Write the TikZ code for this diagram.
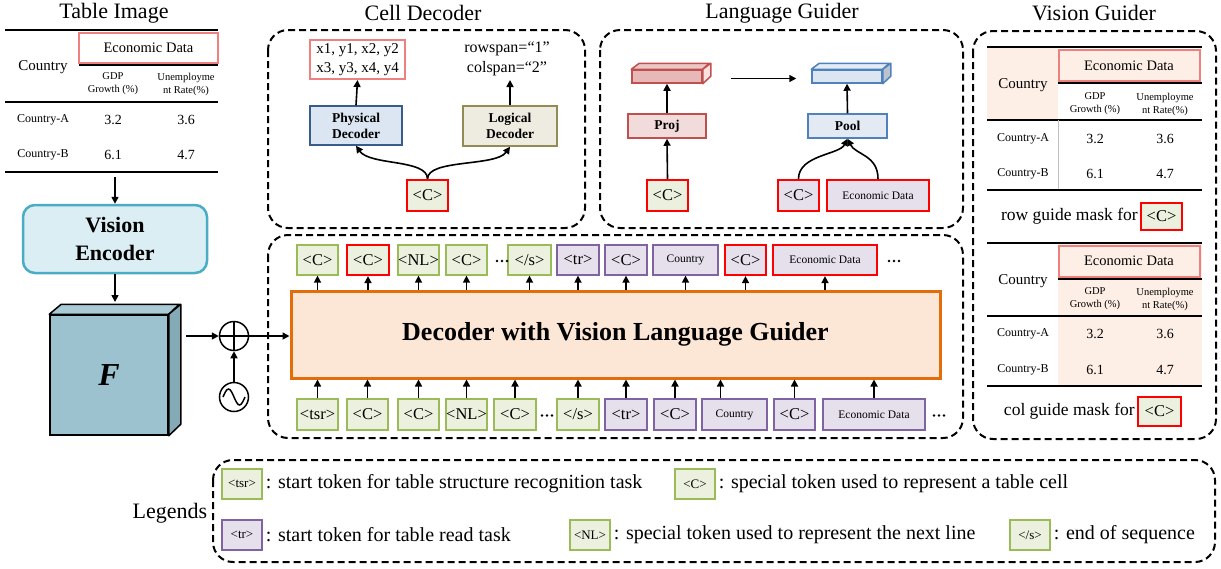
\documentclass[tikz,border=0pt]{standalone}
\usepackage{fontspec}
\setmainfont{Liberation Serif}
\usetikzlibrary{arrows.meta,calc}
\definecolor{gfill}{HTML}{EBF1DE}
\definecolor{gdraw}{HTML}{9BBB59}
\definecolor{pfill}{HTML}{E5E0EC}
\definecolor{pdraw}{HTML}{8064A2}
\definecolor{salmon}{HTML}{EE8080}
\definecolor{peach}{HTML}{FDEFE5}
\definecolor{decfill}{HTML}{FCE6D6}
\definecolor{decdraw}{HTML}{E46C0A}
\definecolor{encfill}{HTML}{DAEEF3}
\definecolor{encdraw}{HTML}{4BACC6}
\definecolor{physfill}{HTML}{DCE6F2}
\definecolor{physdraw}{HTML}{385D8A}
\definecolor{logfill}{HTML}{EEECE1}
\definecolor{logdraw}{HTML}{948A54}
\definecolor{projfill}{HTML}{F2DCDB}
\definecolor{projdraw}{HTML}{C0504D}
\definecolor{prismred}{HTML}{E6B9B8}
\definecolor{poolfill}{HTML}{E3EAF4}
\definecolor{pooldraw}{HTML}{4F81BD}
\definecolor{prismblue}{HTML}{DCE6F2}
\definecolor{cubefront}{HTML}{9BC2CE}
\definecolor{cubetop}{HTML}{A9CBD5}
\definecolor{cubeside}{HTML}{84AAB5}
\newcommand{\fsz}[2]{\fontsize{#1}{#2}\selectfont}
\begin{document}
\begin{tikzpicture}[x=1pt,y=-1pt,
 tok/.style={draw, line width=1.3pt, minimum height=30pt, inner sep=0pt, font=\fsz{16.5}{18}},
 tg/.style={tok, draw=gdraw, fill=gfill},
 tp/.style={tok, draw=pdraw, fill=pfill},
 redb/.style={draw=red, line width=2.2pt},
 tsmall/.style={font=\fsz{11.5}{13}},
 arr/.style={-{Triangle[length=7pt,width=7pt]}, line width=1.6pt},
 panel/.style={draw, dash pattern=on 7pt off 4pt, line width=2pt, rounded corners=20pt},
 title/.style={font=\fsz{22}{26}},
 bx/.style={draw, line width=1.5pt, inner sep=0pt, align=center, font=\bfseries\fsz{13.5}{16}},
 tt/.style={inner sep=0pt, align=center},
 lg/.style={draw, line width=1.3pt, minimum width=40pt, minimum height=30pt, inner sep=0pt, font=\fsz{13}{15}},
 lt/.style={anchor=west, inner sep=3pt, font=\fsz{20}{24}},
 ecbox/.style={draw=salmon, line width=2pt, inner sep=0pt, font=\fsz{14.5}{17}},
 thick2/.style={line width=2pt},
 thin15/.style={line width=1.5pt},
 dots/.style={inner sep=0pt, minimum width=14pt, minimum height=4pt},
]
\useasboundingbox (0,0) rectangle (1221,568);

% titles
\node[title] (tti) at (114,13) {Table Image};
\node[title] (tcd) at (423,13) {Cell Decoder};
\node[title] (tlg) at (782,13) {Language Guider};
\node[title] (tvg) at (1094,13) {Vision Guider};

% ---------- left table ----------
\draw[thick2] (5,30) -- (218,30);
\node[ecbox, minimum width=139pt, minimum height=30pt] (ted) at (148.5,48) {Economic Data};
\draw[thin15] (79,65) -- (218,65);
\node[tt, font=\fsz{15}{18}] (tc) at (43,67) {Country};
\node[tt, font=\fsz{10.5}{13}] (tg1) at (113,84) {GDP\\Growth (\%)};
\node[tt, font=\fsz{10.5}{13}] (tu1) at (186,84) {Unemployme\\nt Rate(\%)};
\draw[thin15] (5,102) -- (218,102);
\node[tt, font=\fsz{12}{14}] (tca) at (43,120) {Country-A};
\node[tt, font=\fsz{14}{16}] (tv1) at (113,120) {3.2};
\node[tt, font=\fsz{14}{16}] (tv2) at (186,120) {3.6};
\node[tt, font=\fsz{12}{14}] (tcb) at (43,155) {Country-B};
\node[tt, font=\fsz{14}{16}] (tv3) at (113,155) {6.1};
\node[tt, font=\fsz{14}{16}] (tv4) at (186,155) {4.7};
\draw[thick2] (5,172) -- (218,172);

% ---------- encoder & feature ----------
\coordinate (tbot) at (115,177);
\node[draw=encdraw, fill=encfill, line width=2.5pt, rounded corners=12pt, minimum width=184pt, minimum height=68pt, align=center, font=\bfseries\fsz{22}{28}] (enc) at (115,239) {Vision\\Encoder};
\draw[arr] (tbot) -- (enc.north);
\node[draw, line width=1.5pt, fill=cubefront, minimum width=118pt, minimum height=120pt, inner sep=0pt, font=\bfseries\itshape\fsz{32}{36}] (F) at (109,375) {F};
\draw[line width=1.5pt, fill=cubetop, line join=round] (F.north west) -- ++(12,-10) -- ++(118,0) -- (F.north east) -- cycle;
\draw[line width=1.5pt, fill=cubeside, line join=round] (F.north east) -- ++(12,-10) -- ++(0,120) -- (F.south east) -- cycle;
\coordinate (ftop) at (115,302);
\draw[arr] (enc.south) -- (ftop);

\node[circle, draw, line width=1.5pt, minimum size=29pt, inner sep=0pt] (op) at (234,336) {};
\draw[line width=1.5pt] (op.north) -- (op.south) (op.west) -- (op.east);
\node[circle, draw, line width=1.5pt, minimum size=29pt, inner sep=0pt] (sn) at (234,397) {};
\draw[line width=1.5pt] ($(sn.center)+(-11,0)$) sin ++(5.5,-8) cos ++(5.5,8) sin ++(5.5,8) cos ++(5.5,-8);
\draw[arr] (sn.north) -- (op.south);
\coordinate (fout) at (186,336);
\draw[arr] (fout) -- (op.west);

% ---------- decoder ----------
\draw[panel] (268,235) rectangle (963,438);
\node[draw=decdraw, fill=decfill, line width=3pt, minimum width=649pt, minimum height=87pt, font=\bfseries\fsz{26}{30}] (dec) at (615.5,334.5) {\raisebox{-2pt}{Decoder with Vision Language Guider}};
\draw[arr] (op.east) -- (op.east -| dec.west);

% top tokens
\node[tg, minimum width=41pt] (t1) at (317.5,260) {<C>};
\node[tg, redb, minimum width=42pt] (t2) at (368,260) {<C>};
\node[tg, minimum width=41pt] (t3) at (418.5,260) {<NL>};
\node[tg, minimum width=41pt] (t4) at (466.5,260) {<C>};
\node[dots] (td1) at (502,261) {};
\node[tg, minimum width=43pt] (t5) at (529.5,260) {</s>};
\node[tp, minimum width=42pt] (t6) at (578,260) {<tr>};
\node[tp, minimum width=42pt] (t7) at (626,260) {<C>};
\node[tp, tsmall, minimum width=65pt] (t8) at (685.5,260) {Country};
\node[tp, redb, minimum width=41pt] (t9) at (745.5,260) {<C>};
\node[tp, redb, tsmall, minimum width=104pt] (t10) at (825,260) {Economic Data};
\node[dots] (td2) at (894,261) {};
\foreach \nm in {t1,t2,t3,t4,t5,t6,t7,t8,t9,t10}
  \draw[arr] (\nm.south |- dec.north) -- (\nm.south);

% bottom tokens
\node[tg, minimum width=41pt, minimum height=31pt] (b1) at (317.5,414.5) {<tsr>};
\node[tg, minimum width=41pt, minimum height=31pt] (b2) at (367.5,414.5) {<C>};
\node[tg, minimum width=41pt, minimum height=31pt] (b3) at (418.5,414.5) {<C>};
\node[tg, minimum width=41pt, minimum height=31pt] (b4) at (466.5,414.5) {<NL>};
\node[tg, minimum width=42pt, minimum height=31pt] (b5) at (515,414.5) {<C>};
\node[dots] (bd1) at (547,415.5) {};
\node[tg, minimum width=42pt, minimum height=31pt] (b6) at (578,414.5) {</s>};
\node[tp, minimum width=42pt, minimum height=31pt] (b7) at (626,414.5) {<tr>};
\node[tp, minimum width=42pt, minimum height=31pt] (b8) at (675,414.5) {<C>};
\node[tp, tsmall, minimum width=65pt, minimum height=31pt] (b9) at (734.5,414.5) {Country};
\node[tp, minimum width=41pt, minimum height=31pt] (b10) at (794.5,414.5) {<C>};
\node[tp, tsmall, minimum width=102pt, minimum height=31pt] (b11) at (874,414.5) {Economic Data};
\node[dots] (bd2) at (939,415.5) {};
\foreach \nm in {b1,b2,b3,b4,b5,b6,b7,b8,b10,b11}
  \draw[arr] (\nm.north) -- (\nm.north |- dec.south);
\draw[arr] ([xshift=-14pt]b9.north) -- ([xshift=-14pt]b9.north |- dec.south);
\foreach \nm in {td1,td2,bd1,bd2}
  \foreach \dx in {-5,0,5}
    \fill ([xshift=\dx pt]\nm.center) circle (1.4pt);

% ---------- cell decoder ----------
\draw[panel] (268,30) rectangle (585,228);
\node[draw=salmon, line width=2pt, minimum width=95pt, minimum height=39pt, inner sep=0pt, align=center, font=\fsz{15}{19}] (xy) at (357.5,59.5) {x1, y1, x2, y2\\x3, y3, x4, y4};
\node[align=center, font=\fsz{16}{20}, inner sep=0pt] (span) at (507,59) {rowspan=“1”\\colspan=“2”};
\node[bx, draw=physdraw, fill=physfill, minimum width=92pt, minimum height=39pt] (phy) at (356,125.5) {Physical\\Decoder};
\node[bx, draw=logdraw, fill=logfill, minimum width=94pt, minimum height=40pt] (log) at (510,126) {Logical\\Decoder};
\node[tg, redb, minimum width=41pt, minimum height=31pt] (cc) at (427.5,195.5) {<C>};
\draw[arr] (phy.north) -- (xy.south);
\coordinate (spanb) at (510,80);
\draw[arr] (log.north) -- (spanb);
\draw[arr] (cc.north) .. controls ($(cc.north)+(0,-20)$) and ($(phy.south)+(14,20)$) .. (phy.south);
\draw[arr] (cc.north) .. controls ($(cc.north)+(0,-20)$) and ($(log.south)+(-14,20)$) .. (log.south);

% ---------- language guider ----------
\draw[panel] (600,30) rectangle (963,228);
\node[draw=projdraw, fill=prismred, line width=1.5pt, minimum width=70pt, minimum height=13pt, inner sep=0pt] (rp) at (667,76.5) {};
\draw[line width=1.5pt, draw=projdraw, fill=prismred!80, line join=round] (rp.north west) -- ++(8,-6) -- ++(70,0) -- (rp.north east) -- cycle;
\draw[line width=1.5pt, draw=projdraw, fill=prismred!120!black!90, line join=round] (rp.north east) -- ++(8,-6) -- ++(0,13) -- (rp.south east) -- cycle;
\node[draw=pooldraw, fill=prismblue, line width=1.5pt, minimum width=70pt, minimum height=13pt, inner sep=0pt] (bp) at (847,76.5) {};
\draw[line width=1.5pt, draw=pooldraw, fill=prismblue!80, line join=round] (bp.north west) -- ++(8,-6) -- ++(70,0) -- (bp.north east) -- cycle;
\draw[line width=1.5pt, draw=pooldraw, fill=prismblue!85!black, line join=round] (bp.north east) -- ++(8,-6) -- ++(0,13) -- (bp.south east) -- cycle;
\draw[arr] ([xshift=28pt,yshift=-2pt]rp.east) -- ([xshift=-15pt,yshift=-2pt]bp.west);
\node[bx, draw=projdraw, fill=projfill, minimum width=78pt, minimum height=24pt] (proj) at (667,126) {Proj};
\node[bx, draw=pooldraw, fill=poolfill, minimum width=79pt, minimum height=24pt] (pool) at (847.5,126) {Pool};
\draw[arr] (proj.north) -- (rp.south);
\draw[arr] (pool.north) -- (bp.south);
\node[tg, redb, minimum width=41pt, minimum height=31pt] (lc) at (667.5,195.5) {<C>};
\draw[arr] (lc.north) -- (proj.south);
\node[tp, redb, minimum width=41pt, minimum height=31pt] (lc2) at (798.5,195.5) {<C>};
\node[tp, redb, tsmall, minimum width=102pt, minimum height=31pt] (led) at (878,195.5) {Economic Data};
\draw[arr] (lc2.north) .. controls ($(lc2.north)+(0,-24)$) and ($(pool.south)+(-8,16)$) .. (pool.south);
\draw[arr] (led.north) .. controls ($(led.north)+(0,-24)$) and ($(pool.south)+(8,16)$) .. (pool.south);

% ---------- vision guider ----------
\draw[panel] (973,31) rectangle (1216,439);
% row mask table
\fill[peach] (987,47) rectangle (1058,120);
\node[ecbox, fill=peach, minimum width=141pt, minimum height=31pt] (ved1) at (1129,65.5) {Economic Data};
\draw[thick2] (987,47) -- (1202,47);
\draw[thin15] (1058,83) -- (1202,83);
\draw[thin15] (987,120) -- (1202,120);
\draw[line width=0.6pt, black!25] (1058,120) -- (1058,190);
\draw[thick2] (987,190) -- (1202,190);
\node[tt, font=\fsz{15}{18}] (vc1c) at (1023,85) {Country};
\node[tt, font=\fsz{10.5}{13}] (vg1) at (1095,104) {GDP\\Growth (\%)};
\node[tt, font=\fsz{10.5}{13}] (vu1) at (1165,104) {Unemployme\\nt Rate(\%)};
\node[tt, font=\fsz{12}{14}] (vca1) at (1023,139) {Country-A};
\node[tt, font=\fsz{14}{16}] (v11) at (1095,139) {3.2};
\node[tt, font=\fsz{14}{16}] (v12) at (1165,139) {3.6};
\node[tt, font=\fsz{12}{14}] (vcb1) at (1023,174) {Country-B};
\node[tt, font=\fsz{14}{16}] (v13) at (1095,174) {6.1};
\node[tt, font=\fsz{14}{16}] (v14) at (1165,174) {4.7};
\node[tg, redb, minimum width=41pt, minimum height=27pt] (vk1) at (1161.5,216.5) {<C>};
\node[anchor=east, inner sep=2pt, font=\fsz{17.5}{20}] (rgm) at (vk1.west) {row guide mask for};
% col mask table
\fill[peach] (1058,243) rectangle (1202,386);
\node[ecbox, fill=peach, minimum width=141pt, minimum height=31pt] (ved2) at (1129,261) {Economic Data};
\draw[thick2] (987,243) -- (1202,243);
\draw[thin15] (1058,279) -- (1202,279);
\draw[thin15] (987,316) -- (1202,316);
\draw[thick2] (987,386) -- (1202,386);
\node[tt, font=\fsz{15}{18}] (vc2c) at (1023,281) {Country};
\node[tt, font=\fsz{10.5}{13}] (vg2) at (1095,299) {GDP\\Growth (\%)};
\node[tt, font=\fsz{10.5}{13}] (vu2) at (1165,299) {Unemployme\\nt Rate(\%)};
\node[tt, font=\fsz{12}{14}] (vca2) at (1023,334) {Country-A};
\node[tt, font=\fsz{14}{16}] (v21) at (1095,334) {3.2};
\node[tt, font=\fsz{14}{16}] (v22) at (1165,334) {3.6};
\node[tt, font=\fsz{12}{14}] (vcb2) at (1023,370) {Country-B};
\node[tt, font=\fsz{14}{16}] (v23) at (1095,370) {6.1};
\node[tt, font=\fsz{14}{16}] (v24) at (1165,370) {4.7};
\node[tg, redb, minimum width=43pt, minimum height=29pt] (vk2) at (1159.5,411.5) {<C>};
\node[anchor=east, inner sep=2pt, font=\fsz{17.5}{20}] (cgm) at (vk2.west) {col guide mask for};

% ---------- legends ----------
\draw[panel] (213,460) rectangle (1215,562);
\node[font=\fsz{22}{26}] (leg) at (170,513) {Legends};
\node[lg, draw=gdraw, fill=gfill] (l1) at (242,484) {<tsr>};
\node[lt] (l1t) at (l1.east) {: start token for table structure recognition task};
\node[lg, draw=gdraw, fill=gfill] (l2) at (695,484) {<C>};
\node[lt] (l2t) at (l2.east) {: special token used to represent a table cell};
\node[lg, draw=pdraw, fill=pfill] (l3) at (242,535) {<tr>};
\node[lt] (l3t) at (l3.east) {: start token for table read task};
\node[lg, draw=gdraw, fill=gfill] (l4) at (590,535) {<NL>};
\node[lt] (l4t) at (l4.east) {: special token used to represent the next line};
\node[lg, draw=gdraw, fill=gfill] (l5) at (1030,535) {</s>};
\node[lt] (l5t) at (l5.east) {: end of sequence};
\end{tikzpicture}
\end{document}
